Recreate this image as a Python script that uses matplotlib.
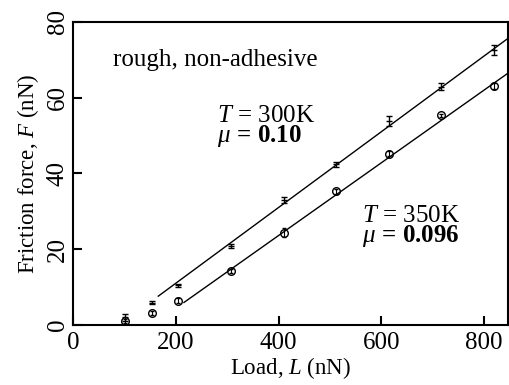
import matplotlib
matplotlib.use("Agg")
import matplotlib.pyplot as plt
import numpy as np

plt.rcParams["font.family"] = "Liberation Serif"
plt.rcParams["mathtext.fontset"] = "custom"
plt.rcParams["mathtext.rm"] = "Liberation Serif"
plt.rcParams["mathtext.it"] = "Liberation Serif:italic"
plt.rcParams["mathtext.bf"] = "Liberation Serif:bold"

# Load (nN) and measured friction force (nN)
load = [102, 154, 205, 307, 410, 512, 615, 717, 820]
f_300 = [2.0, 5.9, 10.5, 20.8, 33.1, 42.4, 53.8, 62.9, 72.6]
err_300 = [1.0, 0.4, 0.4, 0.6, 0.8, 0.7, 1.3, 1.0, 1.3]
f_350 = [1.0, 3.1, 6.4, 14.2, 24.3, 35.3, 45.2, 55.3, 63.2]
err_350 = [0.6, 0.5, 0.6, 0.5, 1.2, 0.6, 0.6, 0.5, 0.8]

# Linear fits F = mu * L + c
mu_300, c_300, start_300 = 0.10, -9.0, 166
mu_350, c_350, start_350 = 0.096, -14.8, 216

xticks = [0, 200, 400, 600, 800]
yticks = [0, 20, 40, 60, 80]

fig = plt.figure(figsize=(5.09, 3.85), dpi=100)
ax = fig.add_axes([0.1434, 0.156, 0.855, 0.787])

ax.errorbar(load, f_300, yerr=err_300, fmt="_", color="black", ms=5,
            mew=1.0, elinewidth=1.0, capsize=2.5, capthick=1.0)
ax.errorbar(load, f_350, yerr=err_350, fmt="o", mfc="none", mec="black",
            color="black", ms=5.5, mew=1.0, elinewidth=0.8, capsize=1.5,
            capthick=0.8)

xmax = 847
x1 = np.array([start_300, xmax + 10])
ax.plot(x1, mu_300 * x1 + c_300, color="black", lw=1.0)
x2 = np.array([start_350, xmax + 10])
ax.plot(x2, mu_350 * x2 + c_350, color="black", lw=1.0)

ax.set_xlim(0, xmax)
ax.set_ylim(0, 80)
ax.set_xticks(xticks)
ax.set_yticks(yticks)
ax.tick_params(direction="in", length=6.5, width=1.5, labelsize=18)
ax.tick_params(axis="x", pad=5)
ax.tick_params(axis="y", pad=3)
for lab in ax.get_yticklabels():
    lab.set_rotation(90)
    lab.set_va("center")
for s in ax.spines.values():
    s.set_linewidth(1.5)

ax.set_xlabel(r"Load, $L$ (nN)", fontsize=16.5, labelpad=1)
ax.set_ylabel(r"Friction force, $F$ (nN)", fontsize=16.5, labelpad=4)

ax.text(78, 68.4, "rough, non-adhesive", fontsize=18)
ax.text(280, 48.2, "$T$ = 300K\n" + r"$\mu\,\mathbf{=}\,\mathbf{0.10}$",
        fontsize=18, linespacing=0.8, va="baseline")
ax.text(562, 21.9, "$T$ = 350K\n" + r"$\mu\,\mathbf{=}\,\mathbf{0.096}$",
        fontsize=18, linespacing=0.8, va="baseline")

fig.savefig("out.png", dpi=100)
